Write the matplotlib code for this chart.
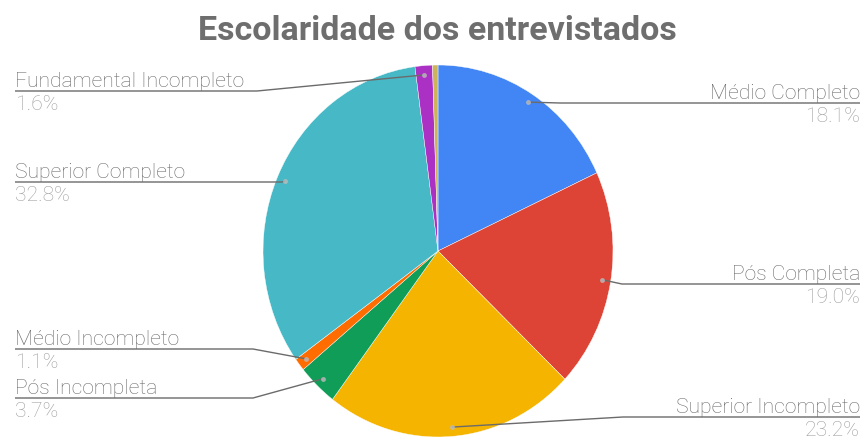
import numpy as np
from matplotlib import pyplot as plt

plt.close("all")

# Escolaridade dos entrevistados (percentual)
categorias = ["Médio Completo", "Pós Completa", "Superior Incompleto", "Pós Incompleta",
              "Médio Incompleto", "Superior Completo", "Fundamental Incompleto", "Outros"]
valores = [18.1, 19.0, 23.2, 3.7, 1.1, 32.8, 1.6, 0.5]
rotulos = ["18.1%", "19.0%", "23.2%", "3.7%", "1.1%", "32.8%", "1.6%", None]
cores = ["#4285F4", "#DE4436", "#F4B400", "#0F9D58", "#FF6D00", "#47B9C6", "#AB30C4", "#CDB45A"]

W, H = 867, 439
fig = plt.figure(figsize=(W / 100, H / 100), dpi=100)
fig.patch.set_facecolor("white")

# pie geometry in pixels (slightly taller than wide)
cx, cy, rx, ry = 438, 252, 175, 186
ax = fig.add_axes([(cx - rx) / W, (H - cy - ry) / H, 2 * rx / W, 2 * ry / H])
ax.pie(valores, colors=cores, startangle=90, counterclock=False,
       wedgeprops=dict(edgecolor="white", linewidth=0.3))
ax.set_aspect("auto")
ax.set_xlim(-1, 1)
ax.set_ylim(-1, 1)
ax.axis("off")

# overlay in pixel coordinates for title, leaders and labels
ov = fig.add_axes([0, 0, 1, 1], zorder=5)
ov.set_xlim(0, W)
ov.set_ylim(H, 0)
ov.axis("off")
ov.patch.set_alpha(0)

ov.text(437, 40, "Escolaridade dos entrevistados", ha="center", va="baseline",
        fontsize=24.5, fontweight="bold", color="#6e6e6e", family="Roboto")

# (lado, y da linha, x do cotovelo)
layout = {
    0: ("right", 104, 560),
    1: ("right", 285, 622),
    2: ("right", 418, 623),
    3: ("left", 399, 253),
    4: ("left", 350, 253),
    5: ("left", 183, 282),
    6: ("left", 92, 257),
}

total = sum(valores)
acum = np.cumsum([0] + valores[:-1])
for i, (nome, v, rot) in enumerate(zip(categorias, valores, rotulos)):
    if rot is None:
        continue
    ang = 2 * np.pi * (acum[i] + v / 2) / total
    px = cx + 0.95 * rx * np.sin(ang)
    py = cy - 0.95 * ry * np.cos(ang)
    lado, ly, ex = layout[i]
    if lado == "right":
        xs = [px, ex, 860]
        tx, ha = 860, "right"
    else:
        xs = [px, ex, 15]
        tx, ha = 15, "left"
    ov.plot(xs, [py, ly, ly], color="#6b6b6b", lw=1.0, solid_capstyle="butt")
    ov.plot(px, py, "o", ms=3.5, mfc="#bdbdbd", mec="none", alpha=0.8)
    ov.text(tx, ly - 5, nome, ha=ha, va="baseline", fontsize=15.2,
            fontweight="light", color="#6a6a6a", family="Roboto")
    ov.text(tx, ly + 3, rot, ha=ha, va="top", fontsize=15.2,
            fontweight="light", color="#9e9e9e", family="Roboto")

fig.savefig("out.png", dpi=100, facecolor="white")
